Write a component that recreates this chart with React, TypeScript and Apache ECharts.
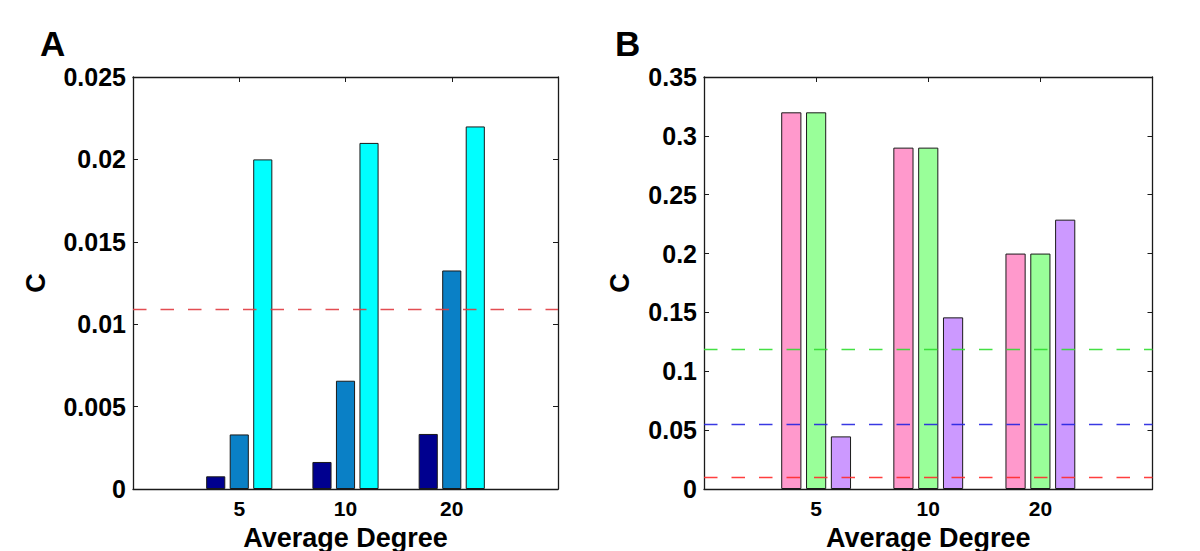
import React, { useEffect, useRef } from "react";
import * as echarts from "echarts";

// ---- data ----
const categories = ["5", "10", "20"];

// Panel A
const seriesA1 = [0.00077, 0.00164, 0.00334];
const seriesA2 = [0.00331, 0.00657, 0.01326];
const seriesA3 = [0.02, 0.021, 0.022];
const refLineA = 0.0109;
const yTicksA = { min: 0, max: 0.025, interval: 0.005 };

// Panel B
const seriesB1 = [0.32, 0.29, 0.2];
const seriesB2 = [0.32, 0.29, 0.2];
const seriesB3 = [0.0447, 0.1458, 0.2288];
const refLinesB = [0.1184, 0.0552, 0.0099];
const yTicksB = { min: 0, max: 0.35, interval: 0.05 };

const colorsA = ["#00008f", "#0a80c6", "#00ffff"];
const colorsB = ["#ff99cc", "#99ff99", "#cc99ff"];
const refColorA = "#e03a3f";
const refColorsB = ["#30dd30", "#2424e0", "#ff2a2a"];

const FONT = "Liberation Sans";

function toXY(vals: number[]) {
  return vals.map((v, i) => [i + 1, v]);
}

export default function App() {
  const ref = useRef<HTMLDivElement>(null);
  useEffect(() => {
    if (!ref.current) return;
    const chart = echarts.init(ref.current, null, { renderer: "svg" });

    const axisLine = { show: true, onZero: false, lineStyle: { color: "#1a1a1a", width: 1.3 } };
    const tick = { show: true, inside: true, length: 5, lineStyle: { color: "#1a1a1a", width: 1 } };

    const xBottom = (gridIndex: number) => ({
      type: "value",
      gridIndex,
      position: "bottom",
      min: 0,
      max: 4,
      interval: 1,
      axisLine,
      axisTick: tick,
      splitLine: { show: false },
      axisLabel: {
        show: true,
        margin: 11,
        fontFamily: FONT,
        fontWeight: "bold",
        fontSize: 21,
        lineHeight: 16,
        color: "#000",
        formatter: (v: number) => (v >= 1 && v <= categories.length ? categories[v - 1] : ""),
      },
      name: "Average Degree",
      nameLocation: "middle",
      nameGap: 38,
      nameMoveOverlap: false,
      nameTextStyle: { fontFamily: FONT, fontWeight: "bold", fontSize: 27, lineHeight: 22, color: "#000" },
    });
    const xTop = (gridIndex: number) => ({
      type: "value",
      gridIndex,
      position: "top",
      min: 0,
      max: 4,
      interval: 1,
      axisLine,
      axisTick: tick,
      splitLine: { show: false },
      axisLabel: { show: false },
    });
    const yLeft = (gridIndex: number, t: any, gap: number) => ({
      type: "value",
      gridIndex,
      position: "left",
      min: t.min,
      max: t.max,
      interval: t.interval,
      axisLine,
      axisTick: tick,
      splitLine: { show: false },
      axisLabel: {
        margin: 7,
        fontFamily: FONT,
        fontWeight: "bold",
        fontSize: 25,
        color: "#000",
      },
      name: "C",
      nameLocation: "middle",
      nameRotate: 90,
      nameGap: gap,
      nameMoveOverlap: false,
      nameTextStyle: { fontFamily: FONT, fontWeight: "bold", fontSize: 27, color: "#000" },
    });
    const yRight = (gridIndex: number, t: any) => ({
      type: "value",
      gridIndex,
      position: "right",
      min: t.min,
      max: t.max,
      interval: t.interval,
      axisLine,
      axisTick: tick,
      splitLine: { show: false },
      axisLabel: { show: false },
    });

    const bar = (vals: number[], color: string, xi: number, yi: number) => ({
      type: "bar",
      xAxisIndex: xi,
      yAxisIndex: yi,
      data: toXY(vals),
      barWidth: "18%",
      barGap: "23%",
      itemStyle: { color, borderColor: "#1a1a1a", borderWidth: 1 },
      z: 2,
    });

    const refSeries = (xi: number, yi: number, lines: number[], colors: string[]) => ({
      type: "line",
      xAxisIndex: xi,
      yAxisIndex: yi,
      data: [],
      z: 10,
      silent: true,
      markLine: {
        silent: true,
        symbol: "none",
        precision: 6,
        animation: false,
        label: { show: false },
        data: lines.map((v, i) => ({
          yAxis: v,
          lineStyle: { color: colors[i], width: 1.3, type: [13.5, 14], opacity: 0.9 },
        })),
      },
    });

    chart.setOption({
      animation: false,
      grid: [
        { left: 133, top: 77, width: 425, height: 412, containLabel: false, outerBoundsMode: "none" },
        { left: 704, top: 77, width: 448.5, height: 412, containLabel: false, outerBoundsMode: "none" },
      ],
      xAxis: [xBottom(0), xTop(0), xBottom(1), xTop(1)],
      yAxis: [yLeft(0, yTicksA, 84), yRight(0, yTicksA), yLeft(1, yTicksB, 71), yRight(1, yTicksB)],
      series: [
        bar(seriesA1, colorsA[0], 0, 0),
        bar(seriesA2, colorsA[1], 0, 0),
        bar(seriesA3, colorsA[2], 0, 0),
        refSeries(0, 0, [refLineA], [refColorA]),
        bar(seriesB1, colorsB[0], 2, 2),
        bar(seriesB2, colorsB[1], 2, 2),
        bar(seriesB3, colorsB[2], 2, 2),
        refSeries(2, 2, refLinesB, refColorsB),
      ],
      graphic: [
        {
          type: "text",
          left: 40,
          top: 26,
          style: { text: "A", fontFamily: FONT, fontWeight: "bold", fontSize: 35, fill: "#000" },
        },
        {
          type: "text",
          left: 615,
          top: 26,
          style: { text: "B", fontFamily: FONT, fontWeight: "bold", fontSize: 35, fill: "#000" },
        },
      ],
    });
    return () => chart.dispose();
  }, []);
  return (
    <div
      ref={ref}
      style={{ position: "fixed", left: 0, top: 0, width: 1200, height: 551, background: "#fff" }}
    />
  );
}
